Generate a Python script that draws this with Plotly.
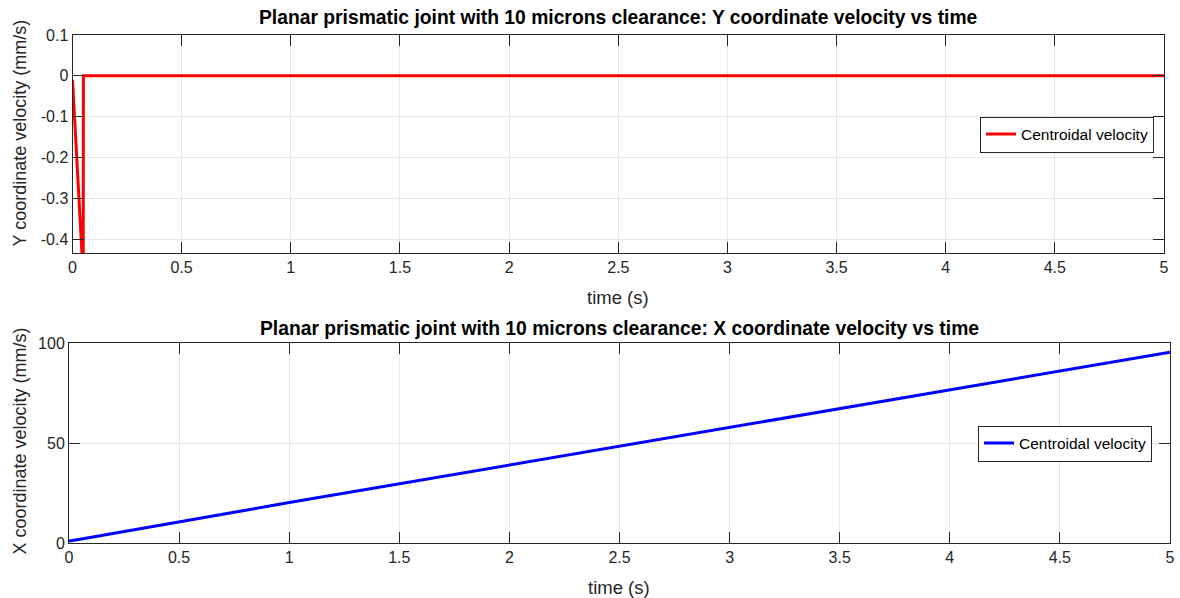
import plotly.graph_objects as go

# ---- data ----
t_y = [0.0, 0.049, 0.05, 1.0, 2.0, 3.0, 4.0, 5.0]
vel_y = [-0.01, -0.49, 0.0, 0.0, 0.0, 0.0, 0.0, 0.0]

t_x = [0.0, 0.05, 1.0, 2.0, 3.0, 4.0, 5.0]
vel_x = [1.0, 1.9, 20.2, 39.0, 57.6, 76.5, 95.4]

x_ticks = [0, 0.5, 1, 1.5, 2, 2.5, 3, 3.5, 4, 4.5, 5]
x_tick_labels = ["0", "0.5", "1", "1.5", "2", "2.5", "3", "3.5", "4", "4.5", "5"]
y1_ticks = [-0.4, -0.3, -0.2, -0.1, 0, 0.1]
y1_tick_labels = ["-0.4", "-0.3", "-0.2", "-0.1", "0", "0.1"]
y2_ticks = [0, 50, 100]
y2_tick_labels = ["0", "50", "100"]

title_top = "Planar prismatic joint with 10 microns clearance: Y coordinate velocity vs time"
title_bot = "Planar prismatic joint with 10 microns clearance: X coordinate velocity vs time"

W, H = 1180, 598
FONT = "Liberation Sans, Arial, sans-serif"
AX = "rgb(38,38,38)"
GRID = "rgb(230,230,230)"

fig = go.Figure()
fig.add_trace(go.Scatter(x=t_y, y=vel_y, mode="lines", name="Centroidal velocity",
                         line=dict(color="rgb(255,0,0)", width=3),
                         xaxis="x", yaxis="y", legend="legend"))
fig.add_trace(go.Scatter(x=t_x, y=vel_x, mode="lines", name="Centroidal velocity",
                         line=dict(color="rgb(0,0,255)", width=3),
                         xaxis="x2", yaxis="y2", legend="legend2"))

def px_x(v):
    return v / W

def px_y(v):
    return 1 - v / H

common_axis = dict(showline=True, linecolor=AX, linewidth=1, mirror="ticks",
                   ticks="inside", ticklen=11, tickcolor=AX, showgrid=True,
                   gridcolor=GRID, gridwidth=1, zeroline=False, automargin=False,
                   tickfont=dict(family=FONT, size=16, color=AX))

fig.update_layout(
    template="none",
    width=W, height=H,
    margin=dict(l=0, r=0, t=0, b=0),
    paper_bgcolor="white", plot_bgcolor="white",
    xaxis=dict(domain=[px_x(72.5), px_x(1164)], range=[0, 5], anchor="y",
               tickvals=x_ticks, ticktext=x_tick_labels, **common_axis),
    yaxis=dict(domain=[px_y(253), px_y(35)], range=[-0.434, 0.1], anchor="x",
               tickvals=y1_ticks, ticktext=y1_tick_labels, **common_axis),
    xaxis2=dict(domain=[px_x(69), px_x(1170)], range=[0, 5], anchor="y2",
                tickvals=x_ticks, ticktext=x_tick_labels, **common_axis),
    yaxis2=dict(domain=[px_y(543), px_y(343)], range=[0, 100], anchor="x2",
                tickvals=y2_ticks, ticktext=y2_tick_labels, **common_axis),
    legend=dict(x=px_x(1154), y=px_y(134.5), xanchor="right", yanchor="middle",
                bgcolor="white", bordercolor="rgb(38,38,38)", borderwidth=1,
                font=dict(family=FONT, size=15.5, color="black")),
    legend2=dict(x=px_x(1152), y=px_y(443.5), xanchor="right", yanchor="middle",
                 bgcolor="white", bordercolor="rgb(38,38,38)", borderwidth=1,
                 font=dict(family=FONT, size=15.5, color="black")),
    showlegend=True,
)

annots = [
    dict(text="<b>" + title_top + "</b>", x=px_x(618), y=px_y(18), size=19.3, color="black"),
    dict(text="<b>" + title_bot + "</b>", x=px_x(619), y=px_y(328), size=19.3, color="black"),
    dict(text="time (s)", x=px_x(618), y=px_y(297), size=18.5, color=AX),
    dict(text="time (s)", x=px_x(619), y=px_y(587), size=18.5, color=AX),
]
for a in annots:
    fig.add_annotation(text=a["text"], x=a["x"], y=a["y"], xref="paper", yref="paper",
                       showarrow=False, xanchor="center", yanchor="middle",
                       font=dict(family=FONT, size=a["size"], color=a["color"]))

for txt, yc in [("Y coordinate velocity (mm/s)", 133), ("X coordinate velocity (mm/s)", 441)]:
    fig.add_annotation(text=txt, x=px_x(19.5), y=px_y(yc), xref="paper", yref="paper",
                       showarrow=False, textangle=-90, xanchor="center", yanchor="middle",
                       font=dict(family=FONT, size=18, color=AX))

fig.write_html("out.html", config={"displayModeBar": False},
               post_script="document.body.style.margin='0px';document.body.style.overflow='hidden';")
